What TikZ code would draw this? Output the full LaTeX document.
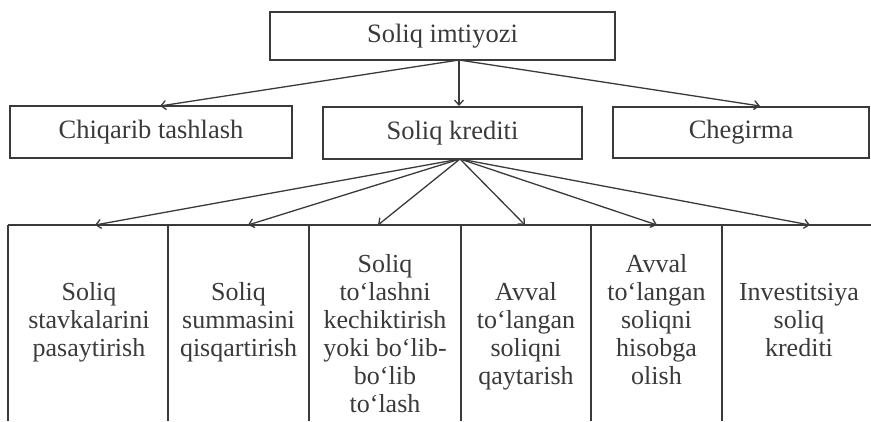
\documentclass[tikz,border=0pt]{standalone}
\usepackage{fontspec}
\setmainfont{Liberation Serif}
\usetikzlibrary{arrows.meta}
\definecolor{ink}{HTML}{3A3A3A}
\definecolor{txt}{HTML}{3A3A3A}
\begin{document}
\begin{tikzpicture}[x=1pt,y=-1pt,
  box/.style={draw=ink, line width=1.7pt, inner sep=0pt, text=txt,
    text height=18pt, text depth=6pt, font=\fontsize{26.5}{30}\selectfont},
  cell/.style={inner sep=0pt, text=txt, anchor=base, font=\fontsize{26}{28}\selectfont},
  arr/.style={draw=ink, line width=1.3pt, -{Straight Barb[length=5pt,width=9pt]}},
  rulel/.style={draw=ink, line width=1.4pt}]
\useasboundingbox (0,0) rectangle (871,421);
% top
\node[box, minimum width=345pt, minimum height=48pt] (top) at (442.5,36) {Soliq imtiyozi};
% middle row
\node[box, minimum width=282pt, minimum height=52pt] (chiq) at (151,132) {Chiqarib tashlash};
\node[box, minimum width=259pt, minimum height=52pt] (kred) at (452.5,133) {Soliq krediti};
\node[box, minimum width=256pt, minimum height=51pt] (cheg) at (741,132.5) {Chegirma};
% arrows from top
\coordinate (ts) at (459,60);
\coordinate (a1) at (160,106);
\coordinate (a2) at (459,106);
\coordinate (a3) at (760,106);
\draw[arr] (ts) -- (a1);
\draw[arr] (ts) -- (a2);
\draw[arr] (ts) -- (a3);
% bottom grid
\coordinate (gl) at (8,225);
\coordinate (gr) at (871,225);
\draw[rulel] (gl) -- (gr);
\foreach \x in {8,168,309,461,591,722} \draw[rulel] (\x,225) -- (\x,421);
% arrows from Soliq krediti
\coordinate (ks) at (460,159);
\foreach \x [count=\i] in {95,248,378,525,657,810} {
  \coordinate (b\i) at (\x,225);
  \draw[arr] (ks) -- (b\i);
}
% cells
\node[cell] (c1) at (89,300) {\begin{tabular}[t]{@{}c@{}}Soliq\\stavkalarini\\pasaytirish\end{tabular}};
\node[cell] (c2) at (238.5,300) {\begin{tabular}[t]{@{}c@{}}Soliq\\summasini\\qisqartirish\end{tabular}};
\node[cell] (c3) at (385,272) {\begin{tabular}[t]{@{}c@{}}Soliq\\to‘lashni\\kechiktirish\\yoki bo‘lib-\\bo‘lib\\to‘lash\end{tabular}};
\node[cell] (c4) at (526,300) {\begin{tabular}[t]{@{}c@{}}Avval\\to‘langan\\soliqni\\qaytarish\end{tabular}};
\node[cell] (c5) at (656.5,272) {\begin{tabular}[t]{@{}c@{}}Avval\\to‘langan\\soliqni\\hisobga\\olish\end{tabular}};
\node[cell] (c6) at (799,300) {\begin{tabular}[t]{@{}c@{}}Investitsiya\\soliq\\krediti\end{tabular}};
\end{tikzpicture}
\end{document}
